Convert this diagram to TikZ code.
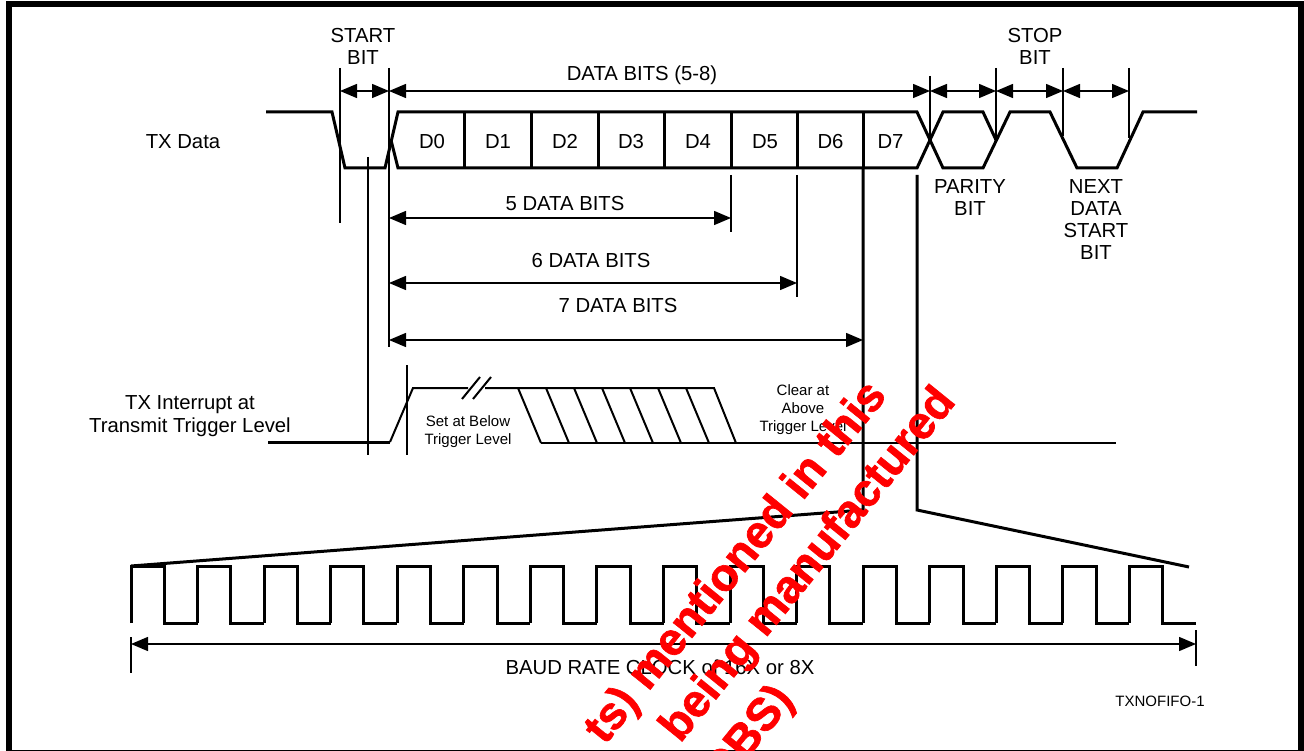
\documentclass[tikz,border=0pt]{standalone}
\usepackage{fontspec}
\setmainfont{Liberation Sans}
\newfontfamily\markfont[BoldFeatures={FakeBold=1.4}]{Liberation Sans}
\usetikzlibrary{arrows.meta}

\begin{document}
\begin{tikzpicture}[x=1pt,y=-1pt]
\tikzset{wave/.style={line width=3pt},
  tick/.style={line width=1.5pt},
  sig/.style={line width=2pt},
  dimline/.style={line width=1.5pt,{Triangle[length=17pt,width=14pt]}-{Triangle[length=17pt,width=14pt]}},
  lbl/.style={inner sep=0pt,align=center,font=\fontsize{20.3}{22}\selectfont},
  bitlbl/.style={lbl,text height=14.6pt,text depth=0pt},
  sm/.style={inner sep=0pt,align=center,font=\fontsize{15}{18}\selectfont},
  mark red/.style={inner sep=0pt,text=red,rotate=51,font=\fontsize{46}{46}\markfont\bfseries}}
\useasboundingbox (0,0) rectangle (1304,751);
\clip (0,0) rectangle (1304,751);
\draw[line width=6pt] (9,4) rectangle (1301,752.5);

% TX data
\draw[wave] (266,112)--(332,112)--(345,168)--(385,168)--(398,112)--(917,112)--(943,168)--(983,168)--(1010,112)--(1050,112)--(1077,168)--(1117,168)--(1143,112)--(1197,112);
\draw[wave] (391,140)--(398,168)--(917,168)--(943,112)--(983,112)--(996,140);
\draw[wave] (464,112)--(464,168);
\draw[wave] (531,112)--(531,168);
\draw[wave] (598,112)--(598,168);
\draw[wave] (664,112)--(664,168);
\draw[wave] (731,112)--(731,168);
\draw[wave] (797,112)--(797,168);
\draw[wave] (863,112)--(863,168);
\node[bitlbl] (d0) at (432,141.5) {D0};
\node[bitlbl] (d1) at (498,141.5) {D1};
\node[bitlbl] (d2) at (565,141.5) {D2};
\node[bitlbl] (d3) at (631,141.5) {D3};
\node[bitlbl] (d4) at (698,141.5) {D4};
\node[bitlbl] (d5) at (765,141.5) {D5};
\node[bitlbl] (d6) at (830.5,141.5) {D6};
\node[bitlbl] (d7) at (890.5,141.5) {D7};
\node[lbl] (txdata) at (183,142) {TX Data};

% ticks
\coordinate (a0) at (340,91);
\coordinate (a1) at (389,91);
\coordinate (a2) at (930,91);
\coordinate (a3) at (996,91);
\coordinate (a4) at (1063,91);
\coordinate (a5) at (1129,91);
\draw[tick] (340,68)--(340,223);
\draw[tick] (389,68)--(389,347);
\draw[tick] (368,157)--(368,455);
\draw[tick] (407,365)--(407,455);
\draw[tick] (930,76)--(930,140);
\draw[tick] (996,68)--(996,140);
\draw[tick] (1063,68)--(1063,136);
\draw[tick] (1129,68)--(1129,138);
\draw[dimline] (a0)--(a1);
\draw[dimline] (a1)--(a2);
\draw[dimline] (a2)--(a3);
\draw[dimline] (a3)--(a4);
\draw[dimline] (a4)--(a5);
\node[lbl] (startbit) at (363,46.5) {START\\BIT};
\node[lbl] (stopbit) at (1035,46.5) {STOP\\BIT};
\node[lbl] (databits) at (642,75) {DATA BITS (5-8)};
\node[lbl] (parity) at (970,197.5) {PARITY\\BIT};
\node[lbl] (nextbit) at (1096,219.5) {NEXT\\DATA\\START\\BIT};

% 5, 6, 7 bits
\coordinate (b5) at (389,218);
\coordinate (e5) at (731,218);
\coordinate (b6) at (389,283);
\coordinate (e6) at (797,283);
\coordinate (b7) at (389,340);
\coordinate (e7) at (863,340);
\draw[tick] (731,175)--(731,232);
\draw[tick] (797,175)--(797,297);
\draw[dimline] (b5)--(e5);
\draw[dimline] (b6)--(e6);
\draw[dimline] (b7)--(e7);
\node[lbl] (five) at (565,204) {5 DATA BITS};
\node[lbl] (six) at (591,261) {6 DATA BITS};
\node[lbl] (seven) at (618,306) {7 DATA BITS};

% zoom lines
\draw[wave] (131,566)--(863,510)--(863,168);
\draw[wave] (917,175)--(917,510)--(1189,567);

% interrupt
\draw[wave] (268,442)--(390,442);
\draw[sig] (390,442)--(413,388)--(468,388);
\draw[sig] (485,388)--(714,388)--(736,443);
\draw[sig] (462,399)--(480,377);
\draw[sig] (473,399)--(491,377);
\draw[sig] (541,443)--(1116,443);
\foreach \i in {0,...,6} {
  \draw[sig] (518+28*\i,388)--(541+28*\i,443);
}
\node[lbl,font=\fontsize{20.3}{23}\selectfont] (txint) at (190,416.5) {TX Interrupt at\\Transmit Trigger Level};
\node[sm] (setat) at (468,432) {Set at Below\\Trigger Level};
\node[sm] (clearat) at (803,410) {Clear at\\Above\\Trigger Level};

% clock
\draw[wave] (131,623)--(131,566)--(164.3,566)--(164.3,623)--(197.6,623);
\foreach \i in {1,...,15} {
  \draw[wave] (131+66.56*\i,623)--(131+66.56*\i,566)--(164.3+66.56*\i,566)--(164.3+66.56*\i,623)--(197.6+66.56*\i,623);
}
\coordinate (c0) at (131,644);
\coordinate (c1) at (1196,644);
\draw[tick] (131,637)--(131,673);
\draw[tick] (1196,630)--(1196,666);
\draw[dimline] (c0)--(c1);
\node[lbl] (baud) at (660,667) {BAUD RATE CLOCK of 16X or 8X};
\node[sm] (figid) at (1160,701) {TXNOFIFO-1};

% over the top
\node[mark red,anchor=base east] (m1) at (888,396) {ts) mentioned in this};
\node[mark red,anchor=base east] (m2) at (957,402) {being manufactured};
\node[mark red,anchor=base east] (m3) at (795,700) {OBS)};
\end{tikzpicture}
\end{document}
